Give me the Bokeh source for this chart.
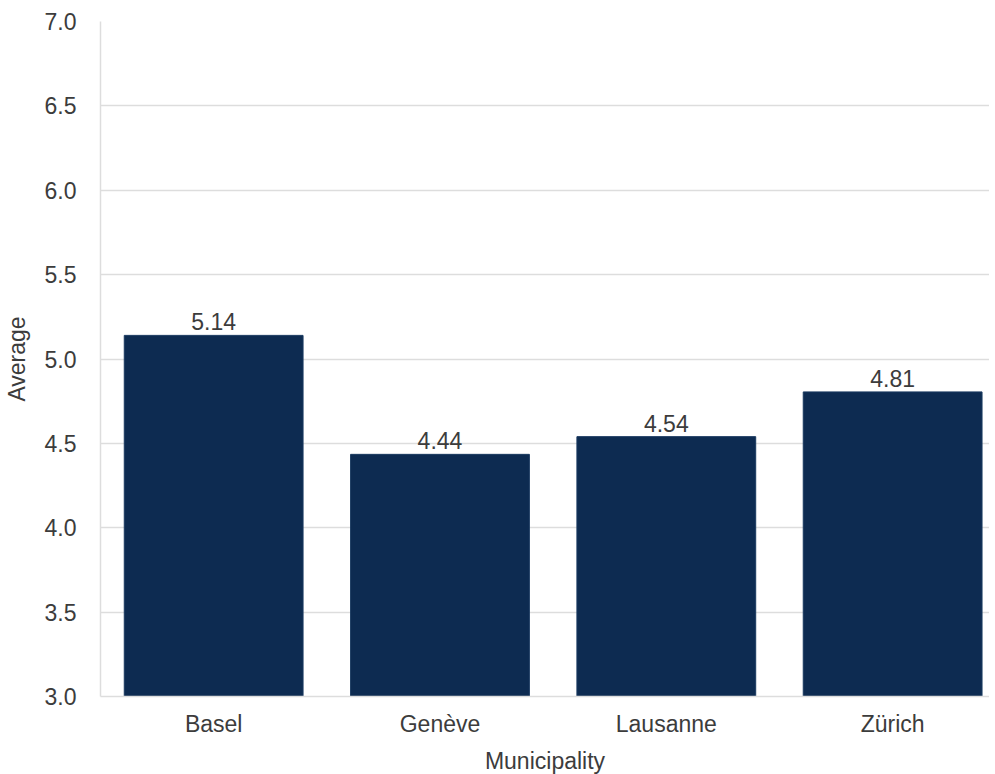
from bokeh.plotting import figure
from bokeh.models import Range1d, FixedTicker, ColumnDataSource, LabelSet
from bokeh.core.properties import value
from bokeh.embed import file_html
from bokeh.resources import INLINE

municipalities = ["Basel", "Genève", "Lausanne", "Zürich"]
averages = [5.14, 4.435, 4.54, 4.805]
value_labels = ["5.14", "4.44", "4.54", "4.81"]
y_ticks = [3.0, 3.5, 4.0, 4.5, 5.0, 5.5, 6.0, 6.5, 7.0]

FONT = "Liberation Sans"
TXT = "#3c3c3c"
GRID = "#dddddd"

xs = list(range(len(municipalities)))
src = ColumnDataSource(dict(x=xs, top=averages, lab=value_labels, name=municipalities))

p = figure(output_backend="svg", toolbar_location=None,
           x_range=Range1d(-0.5, 3.428), y_range=Range1d(3.0, 7.0),
           min_border_left=90, min_border_right=0, min_border_top=21, min_border_bottom=60)
p.frame_width = 889
p.frame_height = 675
p.outline_line_color = None
p.background_fill_color = "white"

p.vbar(x="x", top="top", bottom=3.0, width=0.79, source=src,
       fill_color="#0d2b51", line_color="#1a3a60", line_width=1)

labels = LabelSet(x="x", y="top", text="lab", source=src, text_align="center",
                  text_baseline="bottom", text_font=value(FONT), text_font_size=value("23px"),
                  text_color=value(TXT), y_offset=5)
p.add_layout(labels)

# axes
p.xaxis.ticker = FixedTicker(ticks=xs)
p.xaxis.major_label_overrides = {i: m for i, m in enumerate(municipalities)}
p.yaxis.ticker = FixedTicker(ticks=y_ticks)
p.yaxis.major_label_overrides = {t: f"{t:.1f}" for t in y_ticks}

for ax in (p.xaxis[0], p.yaxis[0]):
    ax.major_tick_line_color = None
    ax.minor_tick_line_color = None
    ax.axis_line_color = GRID
    ax.axis_line_width = 1.5
    ax.major_label_text_font = FONT
    ax.major_label_text_font_size = "23px"
    ax.major_label_text_color = TXT
    ax.axis_label_text_font = FONT
    ax.axis_label_text_font_size = "23px"
    ax.axis_label_text_color = TXT
    ax.axis_label_text_font_style = "normal"

p.xaxis.axis_label = "Municipality"
p.yaxis.axis_label = "Average"
p.xaxis.major_label_standoff = 8
p.xaxis.axis_label_standoff = 8
p.yaxis.major_label_standoff = 18
p.yaxis.axis_label_standoff = 12

p.xgrid.grid_line_color = None
p.ygrid.grid_line_color = GRID
p.ygrid.grid_line_width = 1.5
p.ygrid.level = "underlay"

open("out.html", "w").write(file_html(p, INLINE))
